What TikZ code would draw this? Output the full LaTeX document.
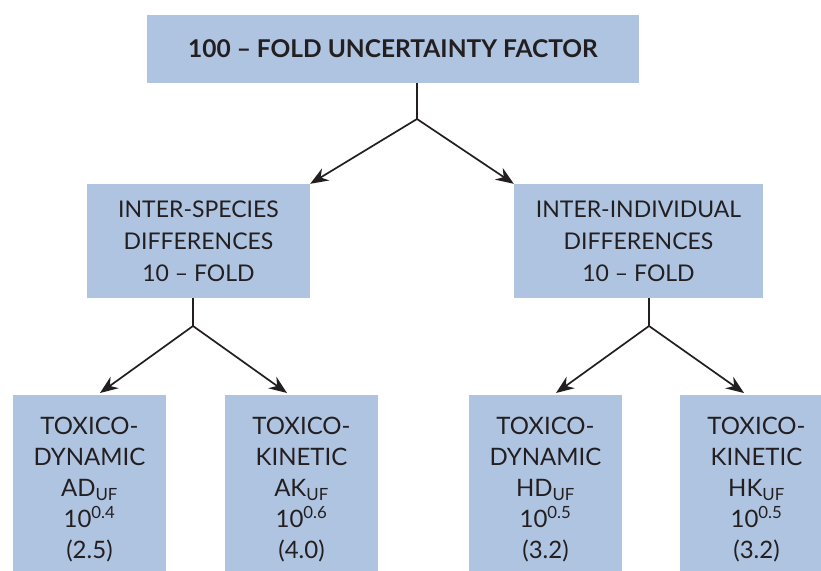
\documentclass[tikz,border=0pt]{standalone}
\usepackage{fontspec}
\setmainfont{Lato}
\usetikzlibrary{arrows.meta,positioning}
\definecolor{boxblue}{RGB}{175,196,225}
\definecolor{inkgray}{RGB}{35,31,32}
\tikzset{
  box/.style={fill=boxblue, text=inkgray, align=center, inner sep=0pt},
  midbox/.style={box, minimum height=114pt, font=\fontsize{23}{32}\selectfont},
  leafbox/.style={box, anchor=north, minimum width=153pt, inner ysep=22pt, font=\fontsize{24}{31}\selectfont},
  conn/.style={draw=inkgray, line width=1.7pt},
  arr/.style={conn, -{Stealth[length=18pt,width=14pt]}}
}

\begin{document}
\begin{tikzpicture}[x=1pt,y=-1pt]
\clip (0,0) rectangle (821,570);

\node[box, minimum width=492pt, minimum height=68pt, font=\bfseries\fontsize{24.5}{28}\selectfont] (top) at (393,49) {100 -- FOLD UNCERTAINTY FACTOR};

\node[midbox, minimum width=223pt] (species) at (198.5,241) {INTER-SPECIES\\DIFFERENCES\\10 -- FOLD};
\node[midbox, minimum width=249pt] (individual) at (638.5,241) {INTER-INDIVIDUAL\\DIFFERENCES\\10 -- FOLD};

\node[leafbox] (ad) at (89.5,395) {TOXICO-\\DYNAMIC\\AD\textsubscript{UF}\\10\textsuperscript{0.4}\\(2.5)};
\node[leafbox] (ak) at (301.5,395) {TOXICO-\\KINETIC\\AK\textsubscript{UF}\\10\textsuperscript{0.6}\\(4.0)};
\node[leafbox] (hd) at (545.5,395) {TOXICO-\\DYNAMIC\\HD\textsubscript{UF}\\10\textsuperscript{0.5}\\(3.2)};
\node[leafbox] (hk) at (756.5,395) {TOXICO-\\KINETIC\\HK\textsubscript{UF}\\10\textsuperscript{0.5}\\(3.2)};

% junctions
\coordinate (j1) at (417,119);
\coordinate (j2) at (193,326);
\coordinate (j3) at (649,326);

\draw[conn] (top.south -| j1) -- (j1);
\draw[arr] (j1) -- (species.north east);
\draw[arr] (j1) -- (individual.north west);

\draw[conn] (species.south -| j2) -- (j2);
\draw[arr] (j2) -- ([xshift=10.5pt,yshift=2pt]ad.north);
\draw[arr] (j2) -- ([xshift=-14.5pt,yshift=2pt]ak.north);

\draw[conn] (individual.south -| j3) -- (j3);
\draw[arr] (j3) -- ([xshift=10.5pt,yshift=2pt]hd.north);
\draw[arr] (j3) -- ([xshift=-12.5pt,yshift=2pt]hk.north);

\end{tikzpicture}
\end{document}
